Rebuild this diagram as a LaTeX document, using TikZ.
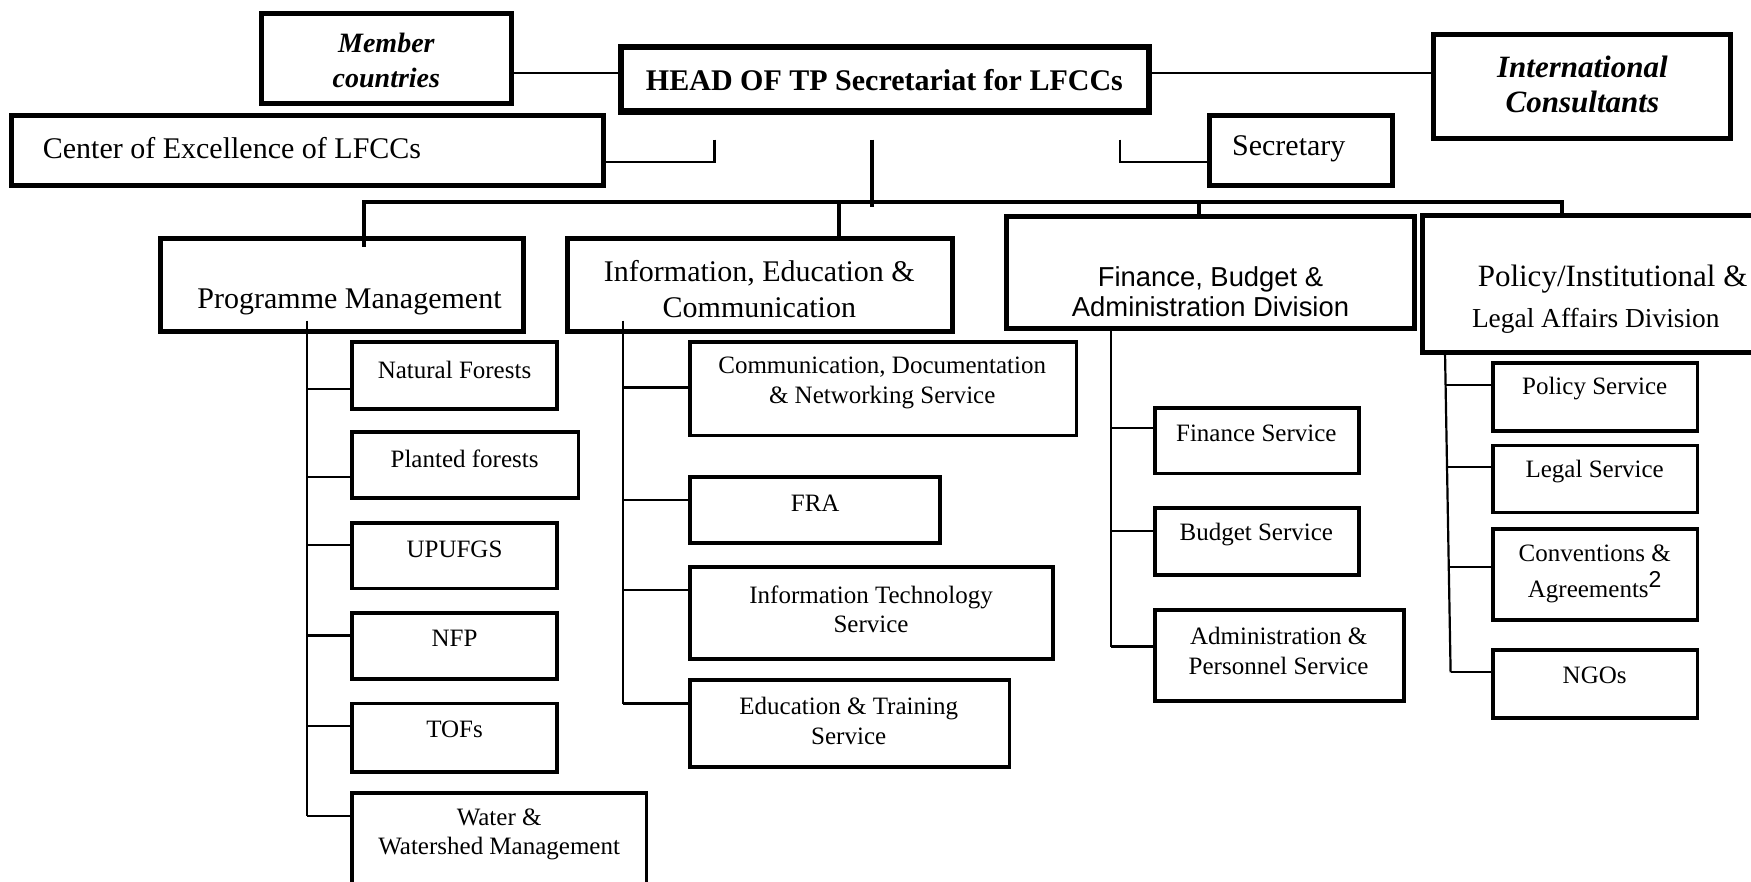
\documentclass[tikz,border=0pt]{standalone}
\usepackage{fontspec}
\setmainfont{Liberation Serif}
\newfontfamily\arialf{Liberation Sans}
\usetikzlibrary{fit}
\begin{document}
\begin{tikzpicture}[x=0.5583pt, y=-0.5583pt,
  headbox/.style={draw, line width=3.3pt, inner sep=0pt},
  bigbox/.style={draw, line width=2.5pt, inner sep=0pt},
  subbox/.style={draw, line width=1.9pt, inner sep=0pt},
  thinline/.style={line width=1pt},
  midline/.style={line width=1.3pt},
  busline/.style={line width=1.9pt},
  colline/.style={line width=1.1pt},
  bigtxt/.style={font=\fontsize{15}{17.9}\selectfont, inner sep=0pt, align=center},
  subtxt/.style={font=\fontsize{12.5}{14.8}\selectfont, inner sep=0pt, align=center},
  itxt/.style={font=\fontsize{14}{17.5}\selectfont\bfseries\itshape, inner sep=0pt, align=center},
  sanstxt/.style={font=\arialf\fontsize{13.7}{15}\selectfont, inner sep=0pt, align=center}]
\path[use as bounding box, fill=white] (0,0) rectangle (1568,789);

% ---------- top level ----------
\node[bigbox, fit={(234,12) (458,93)}] (member) {};
\node[itxt] (membert) at (346,54.5) {Member\\countries};
\node[headbox, fit={(556,42) (1029,100)}] (head) {};
\node[bigtxt, font=\fontsize{15}{18}\selectfont\bfseries] (headt) at (792,71.5) {HEAD OF TP Secretariat for LFCCs};
\node[bigbox, fit={(1284,31) (1550,124)}] (intl) {};
\node[itxt, font=\fontsize{15.5}{17.5}\selectfont\bfseries\itshape] (intlt) at (1417,75.5) {International\\Consultants};
\node[bigbox, fit={(10,103) (540,166)}] (coe) {};
\node[bigtxt, anchor=west] (coet) at (38,133) {Center of Excellence of LFCCs};
\node[bigbox, fit={(1083,103) (1247,166)}] (secr) {};
\node[bigtxt, anchor=west] (secrt) at (1103,133) {Secretary};

% ---------- divisions ----------
\node[bigbox, fit={(144,214) (469,297)}] (pm) {};
\node[bigtxt] (pmt) at (313,270) {Programme Management};
\node[bigbox, fit={(508,214) (853,297)}] (iec) {};
\node[bigtxt] (iect) at (680,259) {Information, Education \&\\Communication};
\node[bigbox, fit={(901,194) (1267,294)}] (fba) {};
\node[sanstxt] (fbat) at (1084,261) {Finance, Budget \&\\Administration Division};
\node[bigbox, fit={(1274,193) (1600,316)}] (pol) {};
\node[bigtxt, font=\fontsize{15.5}{18}\selectfont] (polt1) at (1444,250) {Policy/Institutional \&};
\node[bigtxt, font=\fontsize{13.7}{16}\selectfont] (polt2) at (1429,287) {Legal Affairs Division};

% ---------- programme management services ----------
\node[subbox, fit={(315,306) (499,366)}] (nf) {};
\node[subtxt] (nft) at (407,331) {Natural Forests};
\node[subbox, fit={(315,387) (518,446)}] (pf) {};
\node[subtxt] (pft) at (416,411) {Planted forests};
\node[subbox, fit={(315,468) (499,527)}] (up) {};
\node[subtxt] (upt) at (407,492) {UPUFGS};
\node[subbox, fit={(315,549) (499,608)}] (nfp) {};
\node[subtxt] (nfpt) at (407,572) {NFP};
\node[subbox, fit={(315,630) (499,691)}] (tof) {};
\node[subtxt] (toft) at (407,653) {TOFs};
\node[subbox, fit={(315,710) (579,805)}] (wat) {};
\node[subtxt] (watt) at (447,747) {Water \&\\Watershed Management};

% ---------- IEC services ----------
\node[subbox, fit={(618,306) (964,390)}] (cd) {};
\node[subtxt] (cdt) at (790,343) {Communication, Documentation\\\& Networking Service};
\node[subbox, fit={(618,427) (842,486)}] (fra) {};
\node[subtxt] (frat) at (730,451) {FRA};
\node[subbox, fit={(618,508) (943,590)}] (it) {};
\node[subtxt] (itt) at (780,545.5) {Information Technology\\Service};
\node[subbox, fit={(618,609) (904,687)}] (edu) {};
\node[subtxt] (edut) at (760,645.5) {Education \& Training\\Service};

% ---------- FBA services ----------
\node[subbox, fit={(1034,365) (1217,424)}] (fin) {};
\node[subtxt] (fint) at (1125,388) {Finance Service};
\node[subbox, fit={(1034,455) (1217,515)}] (bud) {};
\node[subtxt] (budt) at (1125,479) {Budget Service};
\node[subbox, fit={(1034,546) (1257,628)}] (adm) {};
\node[subtxt] (admt) at (1145,583) {Administration \&\\Personnel Service};

% ---------- policy services ----------
\node[subbox, fit={(1337,325) (1520,386)}] (ps) {};
\node[subtxt] (pst) at (1428,348) {Policy Service};
\node[subbox, fit={(1337,399) (1520,459)}] (ls) {};
\node[subtxt] (lst) at (1428,422) {Legal Service};
\node[subbox, fit={(1337,474) (1520,555)}] (conv) {};
\node[subtxt, font=\fontsize{12.5}{17.9}\selectfont] (convt) at (1428,514) {Conventions \&\\Agreements{\arialf\raisebox{0.42em}{\fontsize{11.5}{12}\selectfont 2}}};
\node[subbox, fit={(1337,582) (1520,643)}] (ngo) {};
\node[subtxt] (ngot) at (1428,605) {NGOs};

% ---------- top connectors ----------
\coordinate (mh) at (0,65);
\coordinate (coey) at (0,145);
\coordinate (coeend) at (640,125);
\coordinate (secend) at (1003,125);
\coordinate (hv1) at (781,125);
\coordinate (hv2) at (781,185);
\coordinate (busL) at (326,181);
\coordinate (busR) at (1399,181);
\coordinate (pmin) at (326,221);
\coordinate (iecx) at (751,181);
\coordinate (fbax) at (1074,181);

\draw[thinline] (member.east |- mh) -- (head.west |- mh);
\draw[thinline] (head.east |- mh) -- (intl.west |- mh);
\draw[midline] (coeend) |- (coe.east |- coey);
\draw[midline] (secend) |- (secr.west |- coey);
\draw[busline] (hv1) -- (hv2);
\draw[busline] (pmin) -- (busL) -- (busR) -- (pol.north -| busR);
\draw[busline] (iecx) -- (iec.north -| iecx);
\draw[busline] (fbax) -- (fba.north -| fbax);

% ---------- column connectors ----------
\coordinate (pmv1) at (275,287);
\coordinate (pmv2) at (275,731);
\draw[colline] (pmv1) -- (pmv2);
\foreach \b/\y in {nf/348, pf/427, up/488, nfp/569, tof/650, wat/731}{
  \coordinate (k\b) at (275,\y);
  \draw[colline] (k\b) -- (\b.west |- k\b);
}

\coordinate (iev1) at (558,287);
\coordinate (iev2) at (558,630);
\draw[colline] (iev1) -- (iev2);
\foreach \b/\y in {cd/347, fra/448, it/528, edu/630}{
  \coordinate (k\b) at (558,\y);
  \draw[colline] (k\b) -- (\b.west |- k\b);
}

\coordinate (fbv1) at (995,294);
\coordinate (fbv2) at (995,579);
\draw[colline] (fbv1) -- (fbv2);
\foreach \b/\y in {fin/383, bud/475.5, adm/579}{
  \coordinate (k\b) at (995,\y);
  \draw[colline] (k\b) -- (\b.west |- k\b);
}

\coordinate (plv1) at (1294,316);
\coordinate (plv2) at (1299,602);
\draw[colline] (plv1) -- (plv2);
\foreach \b/\x/\y in {ps/1294.5/345, ls/1295.8/418, conv/1297.4/508, ngo/1299/602}{
  \coordinate (k\b) at (\x,\y);
  \draw[colline] (k\b) -- (\b.west |- k\b);
}
\end{tikzpicture}
\end{document}
